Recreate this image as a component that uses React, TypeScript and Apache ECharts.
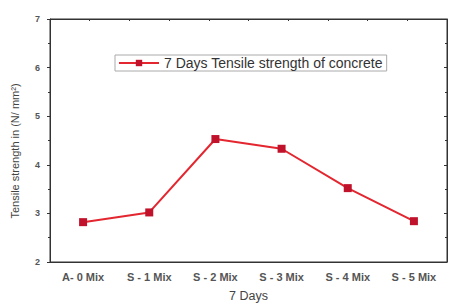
import React, { useEffect, useRef } from "react";
import * as echarts from "echarts";

const categories = ["A- 0 Mix", "S - 1 Mix", "S - 2 Mix", "S - 3 Mix", "S - 4 Mix", "S - 5 Mix"];
const strength7Days = [2.82, 3.02, 4.53, 4.33, 3.52, 2.84];
const seriesName = "7 Days Tensile strength of concrete";
const yTitle = "Tensile strength in (N/ mm²)";
const xTitle = "7 Days";

export default function App() {
  const ref = useRef<HTMLDivElement>(null);
  useEffect(() => {
    document.body.style.margin = "0";
    if (!ref.current) return;
    const chart = echarts.init(ref.current, null, { renderer: "svg" });
    const axisColor = "#333";
    const font = "Liberation Sans, Arial, sans-serif";
    chart.setOption({
      animation: false,
      backgroundColor: "#fff",
      textStyle: { fontFamily: font },
      grid: {
        left: 50,
        right: 2,
        top: 19,
        bottom: 40,
        containLabel: false,
        show: true,
        borderColor: axisColor,
        borderWidth: 1,
        backgroundColor: "transparent",
      },
      graphic: [
        {
          type: "text",
          x: 15,
          y: 151,
          rotation: Math.PI / 2,
          style: {
            text: yTitle,
            fontSize: 11,
            fontFamily: font,
            fill: "#444",
            align: "center",
            verticalAlign: "middle",
          },
        },
      ],
      legend: {
        left: 115,
        top: 55,
        padding: [1, 4, 1, 3],
        borderColor: "#aaa",
        borderWidth: 1,
        itemWidth: 40,
        itemHeight: 8,
        textStyle: { fontSize: 14, color: "#333", fontFamily: font },
        data: [seriesName],
      },
      xAxis: [
        {
          type: "category",
          data: categories,
          position: "bottom",
          boundaryGap: true,
          axisLine: { show: true, onZero: false, lineStyle: { color: axisColor, width: 1 } },
          axisTick: { alignWithLabel: true, length: 3, lineStyle: { color: axisColor } },
          axisLabel: { fontSize: 11, fontWeight: "bold", color: "#555", margin: 9 },
          name: xTitle,
          nameLocation: "middle",
          nameGap: 27,
          nameTextStyle: { fontSize: 12.5, color: "#444" },
          splitLine: { show: false },
        },
        {
          type: "category",
          data: categories,
          position: "bottom",
          offset: 0,
          boundaryGap: true,
          axisLine: { show: false, onZero: false },
          axisTick: { alignWithLabel: false, length: 2, lineStyle: { color: axisColor } },
          axisLabel: { show: false },
          splitLine: { show: false },
        },
        {
          type: "value",
          position: "top",
          min: 0,
          max: 10,
          interval: 1,
          axisLine: { show: true, onZero: false, lineStyle: { color: axisColor } },
          axisTick: { show: true, length: 2, inside: true, lineStyle: { color: axisColor } },
          axisLabel: { show: false },
          splitLine: { show: false },
        },
      ],
      yAxis: [
        {
          type: "value",
          min: 2,
          max: 7,
          interval: 1,
          axisLine: { show: true, onZero: false, lineStyle: { color: axisColor, width: 1 } },
          axisTick: { show: true, length: 3, lineStyle: { color: axisColor } },
          minorTick: { show: true, splitNumber: 2, length: 2, lineStyle: { color: axisColor } },
          axisLabel: { fontSize: 9, fontWeight: "bold", color: "#555", margin: 10 },
          splitLine: { show: false },
        },
        {
          type: "value",
          position: "right",
          min: 2,
          max: 7,
          interval: 1,
          axisLine: { show: true, onZero: false, lineStyle: { color: axisColor, width: 1 } },
          axisTick: { show: true, inside: true, length: 3, lineStyle: { color: axisColor } },
          minorTick: { show: true, splitNumber: 2, length: 2, lineStyle: { color: axisColor } },
          axisLabel: { show: false },
          splitLine: { show: false },
        },
      ],
      series: [
        {
          name: seriesName,
          type: "line",
          data: strength7Days,
          xAxisIndex: 0,
          yAxisIndex: 0,
          symbol: "rect",
          symbolSize: 8,
          lineStyle: { color: "#e3262f", width: 2 },
          itemStyle: { color: "#c1122b" },
        },
      ],
    });
    return () => chart.dispose();
  }, []);
  return <div ref={ref} style={{ width: 449, height: 307 }} />;
}
